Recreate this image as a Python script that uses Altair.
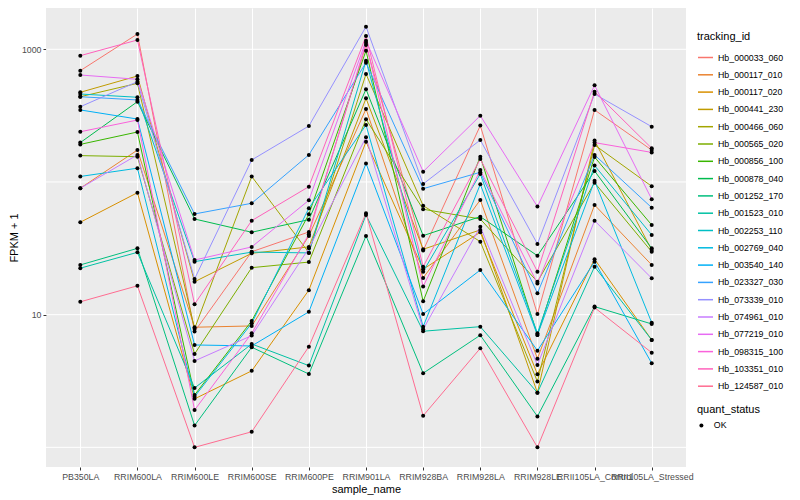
import altair as alt
import pandas as pd

samples = ["PB350LA", "RRIM600LA", "RRIM600LE", "RRIM600SE", "RRIM600PE", "RRIM901LA",
           "RRIM928BA", "RRIM928LA", "RRIM928LE", "RRII105LA_Control", "RRII105LA_Stressed"]

tracking_ids = ["Hb_000033_060", "Hb_000117_010", "Hb_000117_020", "Hb_000441_230",
                "Hb_000466_060", "Hb_000565_020", "Hb_000856_100", "Hb_000878_040",
                "Hb_001252_170", "Hb_001523_010", "Hb_002253_110", "Hb_002769_040",
                "Hb_003540_140", "Hb_023327_030", "Hb_073339_010", "Hb_074961_010",
                "Hb_077219_010", "Hb_098315_100", "Hb_103351_010", "Hb_124587_010"]

# FPKM + 1 per sample (order of `samples`)
v_000033_060 = [690, 1304, 7.45, 29.8, 42.0, 1077, 30.4, 266, 10.1, 349, 174]
v_000117_010 = [89.7, 174, 8.04, 8.22, 39.2, 355, 18.9, 73.2, 4.66, 67.1, 23.7]
v_000117_020 = [49.7, 83.0, 2.32, 3.77, 15.3, 201, 22.0, 41.8, 3.56, 26.2, 6.45]
v_000441_230 = [474, 629, 17.7, 29.0, 32.4, 427, 31.1, 43.5, 2.58, 205, 30.7]
v_000466_060 = [439, 554, 7.84, 110, 29.3, 651, 66.3, 35.5, 3.13, 190, 92.8]
v_000565_020 = [158, 155, 5.06, 22.6, 24.9, 297, 62.3, 52.6, 17.7, 98.8, 29.8]
v_000856_100 = [192, 238, 2.48, 8.97, 57.1, 976, 12.6, 155, 7.03, 154, 47.4]
v_000878_040 = [198, 403, 52.6, 41.8, 52.0, 500, 39.4, 54.8, 27.8, 121, 31.6]
v_001252_170 = [23.7, 31.6, 1.46, 5.68, 3.57, 39.2, 3.62, 7.00, 1.71, 11.5, 8.51]
v_001523_010 = [22.4, 29.5, 2.80, 6.01, 4.13, 56.4, 7.50, 8.12, 2.58, 23.0, 6.45]
v_002253_110 = [460, 435, 25.1, 29.6, 29.2, 820, 21.1, 115, 7.24, 133, 39.9]
v_002769_040 = [110, 127, 2.41, 8.61, 63.4, 269, 8.12, 96.1, 7.03, 102, 8.70]
v_003540_140 = [349, 298, 5.91, 5.81, 10.5, 138, 10.1, 21.7, 5.35, 25.1, 4.30]
v_023327_030 = [439, 415, 57.4, 69.1, 160, 793, 89.0, 118.3, 14.5, 160, 64.0]
v_073339_010 = [369, 570, 18.6, 146.5, 264, 1480, 96.6, 207, 34.1, 460, 261]
v_074961_010 = [89.7, 160, 4.48, 6.95, 31.6, 217, 7.76, 46.0, 4.18, 51.1, 18.8]
v_077219_010 = [640, 594, 25.8, 32.4, 72.8, 1161, 119.6, 316, 65.2, 535, 74.1]
v_098315_100 = [239, 293, 1.91, 7.24, 40.4, 1121, 16.3, 123, 17.2, 198, 167]
v_103351_010 = [895, 1175, 12.0, 51.1, 92.2, 1259, 23.0, 149, 21.1, 479, 179.5]
v_124587_010 = [12.5, 16.5, 1.0, 1.31, 5.74, 58.1, 1.73, 5.58, 1.0, 11.3, 5.17]

series_values = [v_000033_060, v_000117_010, v_000117_020, v_000441_230, v_000466_060,
                 v_000565_020, v_000856_100, v_000878_040, v_001252_170, v_001523_010,
                 v_002253_110, v_002769_040, v_003540_140, v_023327_030, v_073339_010,
                 v_074961_010, v_077219_010, v_098315_100, v_103351_010, v_124587_010]

palette = ["#F8766D", "#EA8331", "#D89000", "#C09B00", "#A3A500", "#7CAE00", "#39B600",
           "#00BB4E", "#00BF7D", "#00C1A3", "#00BFC4", "#00BAE0", "#00B0F6", "#35A2FF",
           "#9590FF", "#C77CFF", "#E76BF3", "#FA62DB", "#FF62BC", "#FF6C91"]

rows = []
for tid, vals in zip(tracking_ids, series_values):
    for i, (s, v) in enumerate(zip(samples, vals)):
        rows.append({"tracking_id": tid, "sample_name": s, "idx": i,
                     "fpkm": v, "quant_status": "OK"})
df = pd.DataFrame(rows)

grid_major = [10, 1000]
grid_minor = [1, 100]

y_scale = alt.Scale(type="log", domain=[0.711, 2047], nice=False)
y_axis = alt.Axis(title="FPKM + 1", values=grid_major, format="d", grid=False,
                  domain=False, tickColor="#333333", tickSize=3,
                  labelColor="#4D4D4D", labelFontSize=8.8, labelPadding=2,
                  titleFontSize=11, titleFontWeight="normal",
                  titleColor="black", titlePadding=2)
x_enc = alt.X("sample_name:N", sort=samples,
              scale=alt.Scale(type="point", padding=0.6),
              axis=alt.Axis(title="sample_name", labelAngle=0, grid=True,
                            gridColor="white", gridWidth=1, domain=False,
                            tickColor="#333333", tickSize=3, labelColor="#4D4D4D",
                            labelFontSize=8.8, labelPadding=2, titleFontSize=11,
                            titleFontWeight="normal", titleColor="black", titlePadding=3))

gridlines = alt.Chart(pd.DataFrame({"g": grid_major + grid_minor})).mark_rule(
    color="white", strokeWidth=1
).encode(y=alt.Y("g:Q", scale=y_scale, axis=y_axis))

base = alt.Chart(df)

lines = base.mark_line(strokeWidth=1).encode(
    x=x_enc,
    y=alt.Y("fpkm:Q", scale=y_scale, axis=y_axis),
    color=alt.Color("tracking_id:N", scale=alt.Scale(domain=tracking_ids, range=palette),
                    legend=alt.Legend(title="tracking_id", symbolType="stroke",
                                      symbolSize=225, symbolStrokeWidth=1.5,
                                      rowPadding=3.3, labelFontSize=8.8,
                                      titleFontSize=11, titleFontWeight="normal",
                                      titlePadding=7, labelOffset=4, orient="none",
                                      legendX=651, legendY=23)),
    order=alt.Order("idx:Q"),
)

points = base.mark_point(filled=True, size=16, opacity=1).encode(
    x=alt.X("sample_name:N", sort=samples),
    y=alt.Y("fpkm:Q", scale=y_scale, axis=y_axis),
    color=alt.value("black"),
    shape=alt.Shape("quant_status:N", scale=alt.Scale(domain=["OK"], range=["circle"]),
                    legend=alt.Legend(title="quant_status", symbolFillColor="black",
                                      symbolStrokeColor="black", symbolSize=16,
                                      labelFontSize=8.8, titleFontSize=11,
                                      titleFontWeight="normal", titlePadding=6,
                                      labelOffset=8, orient="none",
                                      legendX=651, legendY=396)),
)

chart = alt.layer(gridlines, lines, points).properties(
    width=640, height=459,
    autosize=alt.AutoSizeParams(type="none"),
    padding={"left": 38, "top": 0, "right": 106, "bottom": 30},
).configure(font="Liberation Sans").configure_view(
    fill="#EBEBEB", strokeWidth=0
).configure_legend(titleColor="black", labelColor="black")

chart.save("out.html", embed_options={"renderer": "svg", "actions": False})
